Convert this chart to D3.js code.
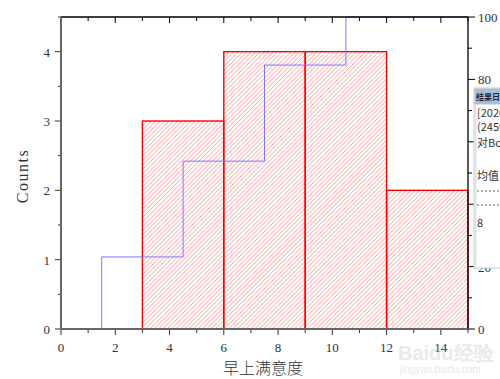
<!DOCTYPE html>
<html>
<head>
<meta charset="utf-8">
<script src="https://cdn.jsdelivr.net/npm/d3@7"></script>
<style>
  body { margin: 0; background: #fff; }
  svg { display: block; }
  .tick-label { font-family: "Liberation Serif", "DejaVu Serif", serif; font-size: 13px; fill: #333; }
  .title { font-family: "Liberation Serif", serif; font-size: 16px; fill: #333; }
  .cjk { font-family: "Noto Sans CJK SC", sans-serif; font-weight: 300; }
</style>
</head>
<body>
<svg width="500" height="379"></svg>
<script>
// histogram bins (left edge) and counts
var binStarts = [3, 6, 9, 12],
    binWidth = 3,
    counts = [3, 4, 4, 2];

// cumulative percent line (step positions and values)
var cumX = [1.5, 4.5, 7.5, 10.5],
    cumPct = [23.1, 53.8, 84.6, 100];

var xTicks = [0, 2, 4, 6, 8, 10, 12, 14],
    yTicks = [0, 1, 2, 3, 4],
    rTicks = [0, 20, 40, 60, 80, 100];

(function() {
    'use strict';

    var svg = d3.select("svg"),
        mLeft = 61, mRight = 468, mTop = 17, mBottom = 329;

    var x = d3.scaleLinear().domain([0, 15]).range([mLeft, mRight]);
    var y = d3.scaleLinear().domain([0, 4.5]).range([mBottom, mTop]);
    var yr = d3.scaleLinear().domain([0, 100]).range([mBottom, mTop]);

    // hatch pattern, "/" lines
    var pat = svg.append("defs").append("pattern")
        .attr("id", "hatch")
        .attr("patternUnits", "userSpaceOnUse")
        .attr("width", 3.1).attr("height", 10)
        .attr("patternTransform", "rotate(45)");
    pat.append("line")
        .attr("x1", 0.5).attr("x2", 0.5).attr("y1", 0).attr("y2", 10)
        .attr("fill", "none")
        .attr("stroke", "#ff9090")
        .attr("stroke-width", 0.75);

    // bars
    svg.selectAll("rect.bar")
        .data(counts)
        .enter().append("rect")
        .attr("class", "bar")
        .attr("x", function(d, i) { return x(binStarts[i]); })
        .attr("y", function(d) { return y(d); })
        .attr("width", function(d, i) { return x(binStarts[i] + binWidth) - x(binStarts[i]); })
        .attr("height", function(d) { return mBottom - y(d); })
        .attr("fill", "url(#hatch)")
        .attr("stroke", "#ff0000")
        .attr("stroke-width", 1.4);

    // cumulative step line
    var pts = [[x(cumX[0]), yr(0)]];
    cumPct.forEach(function(v, i) {
        var nx = i < cumX.length - 1 ? cumX[i + 1] : 15;
        pts.push([x(cumX[i]), yr(v)]);
        pts.push([x(nx), yr(v)]);
    });
    svg.append("path")
        .attr("d", d3.line()(pts))
        .attr("fill", "none")
        .attr("stroke", "#7a7aff")
        .attr("stroke-width", 1);

    // frame: top and right
    svg.append("line").attr("x1", mLeft).attr("x2", mRight).attr("y1", mTop).attr("y2", mTop)
        .attr("stroke", "#000").attr("stroke-width", 1.3);
    svg.append("line").attr("x1", mRight).attr("x2", mRight).attr("y1", mTop).attr("y2", mBottom)
        .attr("stroke", "#000").attr("stroke-width", 1.3);

    // top ticks (inward)
    d3.range(0, 16).forEach(function(v) {
        svg.append("line").attr("x1", x(v)).attr("x2", x(v))
            .attr("y1", mTop).attr("y2", mTop + (v % 2 === 0 ? 6 : 4))
            .attr("stroke", "#000").attr("stroke-width", 1);
    });

    // bottom axis
    var gx = svg.append("g");
    d3.range(0, 16).forEach(function(v) {
        gx.append("line").attr("x1", x(v)).attr("x2", x(v))
            .attr("y1", mBottom).attr("y2", mBottom + (v % 2 === 0 ? 6 : 4))
            .attr("stroke", "#333").attr("stroke-width", 1);
    });
    gx.selectAll("text").data(xTicks).enter().append("text")
        .attr("class", "tick-label")
        .attr("x", function(d) { return x(d); })
        .attr("y", 352)
        .attr("text-anchor", "middle")
        .text(function(d) { return d; });
    gx.append("line").attr("x1", mLeft - 1).attr("x2", mRight + 1).attr("y1", mBottom).attr("y2", mBottom)
        .attr("stroke", "#666").attr("stroke-width", 2);

    // left axis
    var gy = svg.append("g");
    d3.range(0, 4.51, 0.5).forEach(function(v) {
        gy.append("line").attr("x1", mLeft).attr("x2", mLeft - (v % 1 === 0 ? 6 : 3))
            .attr("y1", y(v)).attr("y2", y(v))
            .attr("stroke", "#333").attr("stroke-width", 1);
    });
    gy.selectAll("text").data(yTicks).enter().append("text")
        .attr("class", "tick-label")
        .attr("x", 50)
        .attr("y", function(d) { return y(d) + 5; })
        .attr("text-anchor", "end")
        .text(function(d) { return d; });
    gy.append("line").attr("x1", mLeft).attr("x2", mLeft).attr("y1", mTop).attr("y2", mBottom + 1)
        .attr("stroke", "#666").attr("stroke-width", 2);

    // right axis
    var gr = svg.append("g");
    d3.range(0, 101, 10).forEach(function(v) {
        gr.append("line").attr("x1", mRight).attr("x2", mRight + (v % 20 === 0 ? 7 : 4))
            .attr("y1", yr(v)).attr("y2", yr(v))
            .attr("stroke", "#000").attr("stroke-width", 1);
    });
    gr.selectAll("text").data(rTicks).enter().append("text")
        .attr("class", "tick-label")
        .attr("x", 478)
        .attr("y", function(d) { return yr(d) + 5; })
        .attr("font-size", "14px")
        .text(function(d) { return d; });

    // axis titles
    svg.append("text").attr("class", "title")
        .attr("transform", "translate(28,176) rotate(-90)")
        .attr("text-anchor", "middle")
        .attr("letter-spacing", "1.5px")
        .text("Counts");
    svg.append("text").attr("class", "title cjk")
        .attr("x", 263).attr("y", 374)
        .attr("text-anchor", "middle")
        .attr("font-size", "16px")
        .text("早上满意度");

    // result log panel (partly visible on the right)
    var panel = svg.append("g");
    panel.append("rect").attr("x", 474).attr("y", 88).attr("width", 30).attr("height", 180)
        .attr("fill", "#fff").attr("stroke", "#c8ccd4");
    panel.append("rect").attr("x", 474.5).attr("y", 88.5).attr("width", 30).attr("height", 16)
        .attr("fill", "#a9bdd6");
    panel.append("rect").attr("x", 474.5).attr("y", 105).attr("width", 2).attr("height", 163)
        .attr("fill", "#dde2ea");
    panel.append("text").attr("x", 476).attr("y", 100)
        .attr("font-family", "Noto Sans CJK SC").attr("font-size", "8px").attr("font-weight", "bold")
        .attr("fill", "#223").text("结果日志");
    var logLines = [["[2020", 113], ["(2459", 127], ["对Boo", 143], ["均值", 176], ["8", 223]];
    panel.selectAll("text.log").data(logLines).enter().append("text")
        .attr("class", "log")
        .attr("x", 477).attr("y", function(d) { return d[1] + 4; })
        .attr("font-family", "Noto Sans CJK SC, sans-serif").attr("font-size", "11px")
        .attr("fill", "#333").text(function(d) { return d[0]; });
    [191, 205].forEach(function(yy) {
        panel.append("line").attr("x1", 477).attr("x2", 500).attr("y1", yy).attr("y2", yy)
            .attr("stroke", "#666").attr("stroke-dasharray", "2,2");
    });

    // watermark
    svg.append("text").attr("x", 398).attr("y", 360)
        .attr("font-family", "Liberation Sans, sans-serif").attr("font-size", "20px").attr("font-weight", "bold")
        .attr("fill", "#bbb").attr("opacity", 0.3).text("Baidu经验");
    svg.append("text").attr("x", 400).attr("y", 373)
        .attr("font-family", "Liberation Sans, sans-serif").attr("font-size", "10px")
        .attr("fill", "#bbb").attr("opacity", 0.35).text("jingyan.baidu.com");
})();
</script>
</body>
</html>
